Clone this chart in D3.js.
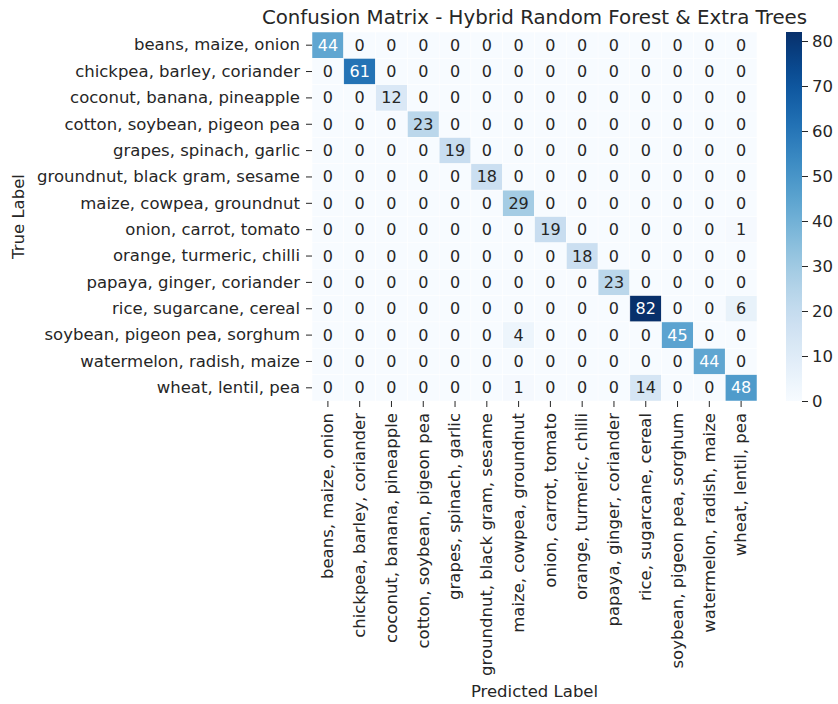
<!DOCTYPE html>
<html>
<head>
<meta charset="utf-8">
<script src="https://cdn.jsdelivr.net/npm/d3@7"></script>
<style>
  body { margin: 0; background: #fff; }
  svg text { font-family: "DejaVu Sans", sans-serif; fill: #262626; }
</style>
</head>
<body>
<div class="container"></div>
<script>
// class names, same order on both axes
const labels = [
    "beans, maize, onion", "chickpea, barley, coriander", "coconut, banana, pineapple",
    "cotton, soybean, pigeon pea", "grapes, spinach, garlic", "groundnut, black gram, sesame",
    "maize, cowpea, groundnut", "onion, carrot, tomato", "orange, turmeric, chilli",
    "papaya, ginger, coriander", "rice, sugarcane, cereal", "soybean, pigeon pea, sorghum",
    "watermelon, radish, maize", "wheat, lentil, pea"
]

// rows = true label, cols = predicted label
const counts = [
    [44, 0, 0, 0, 0, 0, 0, 0, 0, 0, 0, 0, 0, 0],
    [0, 61, 0, 0, 0, 0, 0, 0, 0, 0, 0, 0, 0, 0],
    [0, 0, 12, 0, 0, 0, 0, 0, 0, 0, 0, 0, 0, 0],
    [0, 0, 0, 23, 0, 0, 0, 0, 0, 0, 0, 0, 0, 0],
    [0, 0, 0, 0, 19, 0, 0, 0, 0, 0, 0, 0, 0, 0],
    [0, 0, 0, 0, 0, 18, 0, 0, 0, 0, 0, 0, 0, 0],
    [0, 0, 0, 0, 0, 0, 29, 0, 0, 0, 0, 0, 0, 0],
    [0, 0, 0, 0, 0, 0, 0, 19, 0, 0, 0, 0, 0, 1],
    [0, 0, 0, 0, 0, 0, 0, 0, 18, 0, 0, 0, 0, 0],
    [0, 0, 0, 0, 0, 0, 0, 0, 0, 23, 0, 0, 0, 0],
    [0, 0, 0, 0, 0, 0, 0, 0, 0, 0, 82, 0, 0, 6],
    [0, 0, 0, 0, 0, 0, 4, 0, 0, 0, 0, 45, 0, 0],
    [0, 0, 0, 0, 0, 0, 0, 0, 0, 0, 0, 0, 44, 0],
    [0, 0, 0, 0, 0, 0, 1, 0, 0, 0, 14, 0, 0, 48]
]

const colorbarTicks = [0, 10, 20, 30, 40, 50, 60, 70, 80]

const width = 838
const height = 704
const plot = {left: 312, right: 757, top: 32, bottom: 401}
const cbar = {x: 786, w: 16}

const svg = d3.select(".container")
    .append("svg")
    .attr("width", width)
    .attr("height", height)

const cells = []
counts.forEach((row, i) => row.forEach((v, j) => cells.push({row: i, col: j, value: v})))

const vmax = d3.max(cells, d => d.value)

const x = d3.scaleBand().domain(d3.range(labels.length)).range([plot.left, plot.right])
const y = d3.scaleBand().domain(d3.range(labels.length)).range([plot.top, plot.bottom])
const color = d3.scaleSequential(d3.interpolateBlues).domain([0, vmax])

// seaborn style: white text on dark cells
function textColor(v) {
    const c = d3.rgb(color(v))
    const lin = [c.r, c.g, c.b].map(u => {
        u = u / 255
        return u <= 0.03928 ? u / 12.92 : Math.pow((u + 0.055) / 1.055, 2.4)
    })
    const lum = 0.2126 * lin[0] + 0.7152 * lin[1] + 0.0722 * lin[2]
    return lum > 0.408 ? "#262626" : "#ffffff"
}

const cellG = svg.append("g")

cellG.selectAll("rect")
    .data(cells)
    .enter()
    .append("rect")
    .attr("x", d => x(d.col))
    .attr("y", d => y(d.row))
    .attr("width", x.bandwidth())
    .attr("height", y.bandwidth())
    .style("fill", d => color(d.value))
    .style("stroke", "#ffffff")
    .style("stroke-width", 0.5)

cellG.selectAll("text")
    .data(cells)
    .enter()
    .append("text")
    .attr("x", d => x(d.col) + x.bandwidth() / 2)
    .attr("y", d => y(d.row) + y.bandwidth() / 2)
    .attr("text-anchor", "middle")
    .attr("dominant-baseline", "central")
    .style("font-size", "16px")
    .style("fill", d => textColor(d.value))
    .text(d => d.value)

// y axis
const yAxis = svg.append("g")
    .attr("transform", `translate(${plot.left},0)`)
    .call(d3.axisLeft(y).tickSize(6).tickPadding(6).tickFormat(i => labels[i]))
yAxis.select(".domain").remove()
yAxis.selectAll(".tick line").attr("stroke", "#262626")
yAxis.selectAll(".tick text")
    .style("font-size", "16.5px")
    .attr("font-family", null)

// x axis, labels rotated
const xAxis = svg.append("g")
    .attr("transform", `translate(0,${plot.bottom})`)
    .call(d3.axisBottom(x).tickSize(6).tickPadding(6).tickFormat(i => labels[i]))
xAxis.select(".domain").remove()
xAxis.selectAll(".tick line").attr("stroke", "#262626")
xAxis.selectAll(".tick text")
    .style("font-size", "16.5px")
    .attr("text-anchor", "end")
    .attr("dy", "0.32em")
    .attr("y", 0)
    .attr("x", -12)
    .attr("transform", "rotate(-90)")

// titles
svg.append("text")
    .attr("x", (plot.left + plot.right) / 2)
    .attr("y", 24)
    .attr("text-anchor", "middle")
    .style("font-size", "19.8px")
    .text("Confusion Matrix - Hybrid Random Forest & Extra Trees")

svg.append("text")
    .attr("x", (plot.left + plot.right) / 2)
    .attr("y", 697)
    .attr("text-anchor", "middle")
    .style("font-size", "16.5px")
    .text("Predicted Label")

svg.append("text")
    .attr("transform", `translate(18,${(plot.top + plot.bottom) / 2}) rotate(-90)`)
    .attr("text-anchor", "middle")
    .attr("dominant-baseline", "central")
    .style("font-size", "16.5px")
    .text("True Label")

// colorbar
const defs = svg.append("defs")
const grad = defs.append("linearGradient")
    .attr("id", "cbar-grad")
    .attr("x1", 0).attr("y1", 1).attr("x2", 0).attr("y2", 0)
grad.selectAll("stop")
    .data(d3.range(0, 1.0001, 0.05))
    .enter()
    .append("stop")
    .attr("offset", d => d)
    .attr("stop-color", d => color(d * vmax))

const cy = d3.scaleLinear().domain([0, vmax]).range([plot.bottom, plot.top])

svg.append("rect")
    .attr("x", cbar.x)
    .attr("y", plot.top)
    .attr("width", cbar.w)
    .attr("height", plot.bottom - plot.top)
    .style("fill", "url(#cbar-grad)")

const cAxis = svg.append("g")
    .attr("transform", `translate(${cbar.x + cbar.w},0)`)
    .call(d3.axisRight(cy).tickValues(colorbarTicks).tickSize(6).tickPadding(4))
cAxis.select(".domain").remove()
cAxis.selectAll(".tick line").attr("stroke", "#262626")
cAxis.selectAll(".tick text").style("font-size", "16.5px")
</script>
</body>
</html>
